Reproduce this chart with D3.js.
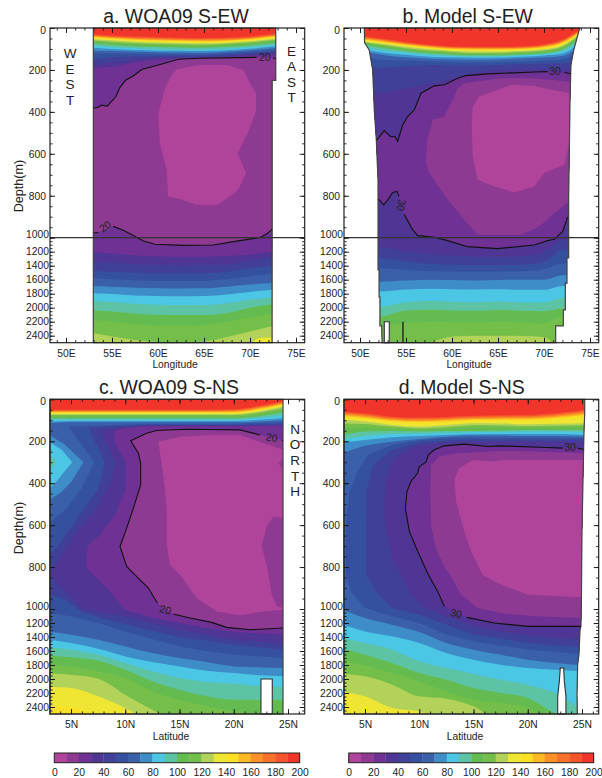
<!DOCTYPE html>
<html>
<head>
<meta charset="utf-8">
<script src="https://cdn.jsdelivr.net/npm/d3@7"></script>
<style>
body{margin:0;background:#fff;}
text{font-family:"Liberation Sans",Arial,sans-serif;fill:#222;}
</style>
</head>
<body>
<svg id="chart" width="602" height="778"></svg>
<script>
// colour of each 10 wide class, 0-10 first
var colors=["#b0449a","#8e3a92","#6f3193","#4f3594","#404099","#3650a0","#3a60aa","#3e8cc8","#4bc6e5","#5cc3a4",
	"#64bc50","#74bf4a","#b3d25a","#eee633","#f9e023","#fdb924","#f99128","#f6722a","#f4542a","#f1352b"];
var depthTicks=[0,200,400,600,800,1000,1200,1400,1600,1800,2000,2200,2400];
var lonTicks=[50,55,60,65,70,75];
var latTicks=[5,10,15,20,25];
var barTicks=[0,20,40,60,80,100,120,140,160,180,200];

// ---- a. WOA09 S-EW ----
var lonA=[52.9,55,57.5,60,62.5,65,67.5,70,72.9];
// depth where the value first drops below 190,180,...
var upA=[
[30,36,41,44,47,48,46,40,26],
[33,40,45,48,51,52,50,44,30],
[37,44,49,52,55,56,54,48,34],
[40,47,52,56,59,60,58,51,37],
[43,50,56,60,62,64,61,54,40],
[47,54,60,64,66,68,65,58,44],
[52,59,65,69,71,73,70,63,50],
[58,65,71,75,77,79,75,68,56],
[65,72,78,82,84,85,81,74,62],
[74,81,87,91,93,94,90,83,70],
[85,92,97,101,102,103,99,92,78],
[94,100,105,108,109,110,106,99,87],
[108,110,113,116,117,118,113,106,95],
[122,122,123,124,125,125,120,113,105],
[150,140,135,133,131,131,126,119,112],
[178,165,150,142,138,137,132,125,118],
[190,185,165,150,145,143,139,134,129]];
// depth where the value comes back above 130,120,...
var lowA=[
[],
[2365,2410,2460,2490,2500,2485,2420,2340,2245],
[2175,2200,2235,2250,2250,2247,2205,2140,2080],
[2035,2055,2085,2100,2106,2104,2075,2000,1940],
[1905,1920,1945,1958,1962,1961,1935,1885,1845],
[1795,1805,1825,1832,1835,1832,1810,1775,1740],
[1690,1700,1715,1722,1725,1723,1700,1670,1640],
[1580,1595,1610,1618,1620,1618,1595,1550,1510],
[1475,1490,1505,1510,1512,1509,1490,1440,1395],
[1332,1352,1378,1388,1392,1390,1378,1330,1250],
[1199,1225,1255,1268,1272,1271,1262,1240,1190]];
var contourA=[[52.97,383],[53.5,378],[53.88,368],[54.49,373],[55.43,327],[55.87,283],[56.52,248],[57.32,229],[58.22,198],[59.86,179],[62.2,149],[64.57,144],[70.73,140],null,[72.5,144],[72.9,144]];
var contourA2=[[72.9,950],[72.43,959],[71.81,982],[71.09,999],[68.19,1056],[66.01,1104],[62.75,1109],[59.67,1094],[58.41,1047],[57.32,990],[56.23,965],[55.14,946],null,[53.51,975],[52.9,978]];
var pinkA=[[62.03,197],[64.57,176],[67.46,176],[69.28,200],[70,263],[70.65,311],[70.65,398],[69.82,494],[68.66,597],[69.57,692],[68.73,771],[67.83,803],[66.4,843],[64.2,843],[62.4,815],[61.1,803],[60.94,676],[60.2,549],[60.04,406],[60.76,287],[61.49,224]];
var yellowA=[[70.2,2500],[70.8,2440],[71.6,2425],[72.6,2430],[72.6,2500]];
var outlineA=[[52.97,0],[72.8,0],[72.8,250],[72.4,250],[72.4,2500],[52.97,2500]];

// ---- b. Model S-EW ----
var lonB=[50.4,52,55,58,60,62.5,65,67.5,70,72,74];
var upB=[
[40,48,68,82,88,90,90,88,78,55,5],
[44,52,71,85,91,93,93,91,82,60,8],
[48,56,74,88,94,96,96,94,85,64,11],
[52,60,77,91,97,99,99,97,88,68,14],
[56,64,81,94,100,103,103,100,92,72,17],
[60,68,85,98,104,107,107,104,96,77,20],
[64,73,90,103,108,112,112,108,101,82,24],
[68,78,96,109,114,119,118,114,107,88,28],
[72,84,102,115,120,124,124,120,113,95,34],
[80,92,110,122,127,130,130,126,120,103,42],
[90,104,118,130,133,136,135,131,125,112,52],
[100,115,128,138,140,142,141,137,131,122,66],
[110,125,140,148,150,151,150,146,141,134,80],
[120,150,155,160,163,164,163,160,156,150,110],
[150,190,182,176,178,178,177,172,170,168,140],
[200,311,287,263,240,212,200,196,195,195,170]];
var lowB=[
[],
[2600,2600,2600,2480,2410,2400,2400,2405,2420,2600,2600],
[2270,2270,2220,2200,2210,2215,2199,2210,2225,2120,2110],
[2130,2130,2040,2030,2040,2045,2032,2045,2050,2010,2030],
[1985,1985,1925,1900,1915,1925,1913,1925,1925,1860,1860],
[1770,1770,1740,1730,1735,1740,1737,1745,1745,1690,1690],
[1628,1628,1610,1600,1605,1610,1604,1600,1600,1535,1530],
[1437,1437,1460,1480,1485,1488,1485,1480,1450,1370,1366],
[1294,1294,1340,1375,1385,1390,1390,1385,1340,1180,1175],
[1130,1130,1190,1235,1255,1268,1270,1265,1200,1035,1030]];
var contourB=[[51.5,533],[51.85,533],[52.64,489],[53.3,517],[53.84,520],[54.09,541],[54.64,462],[55.18,422],[55.91,390],[56.63,311],[58.08,276],[59.17,271],[60.62,240],[61.52,227],[63.88,219],[68.95,210],[70.4,208],null,[72.2,211],[72.93,219]];
var contourB2=[[72.57,901],[72.03,970],[71.12,1023],[70.4,1042],[68.95,1104],[64.96,1156],[61.7,1128],[59.53,1042],[58.08,998],[56.27,990],[55.72,962],[54.82,890],null,[54.24,803],[54.02,779],[53.55,784],[53.08,816],[52.57,843],[52.1,819],[51.5,819]];
var plumB=[[60.62,287],[61.34,263],[65.33,240],[68.95,240],[72.86,256],[73,819],[71.12,883],[69.49,946],[67.5,986],[62.8,986],[61.34,914],[59.53,819],[57.54,692],[57.17,644],[57.28,541],[57.9,438],[59.17,422],[60.25,327]];
var pinkB=[[62.25,375],[62.97,327],[66.41,271],[68.95,276],[72.75,311],[72.75,549],[72.21,652],[70.04,692],[68.95,756],[66.78,784],[64.6,756],[62.79,724],[62.25,613],[62.14,470]];
var outlineB=[[50.47,0],[50.5,70],[51,105],[51.38,200],[51.55,390],[51.77,533],[51.96,724],[51.96,1461],[52.07,1461],[52.07,1847],[52.17,1847],[52.17,2261],[52.36,2261],[52.4,2500],[71.27,2500],[71.27,2260],[72.1,2260],[72.1,2030],[72.32,2030],[72.32,1650],[72.5,1650],[72.5,1290],[72.68,1290],[72.68,819],[72.83,343],[72.93,176],[73.23,105],[73.88,0]];
var notchB=[[52.64,2500],[52.64,2200],[53.18,2200],[53.18,2500]];
var ridgeB=[[54.67,2200],[54.67,2500]];

// ---- c. WOA09 S-NS ----
var latC=[3,5,7.5,10,12.5,15,17.5,20,22.5,24.6];
var upC=[
[50,50,50,50,50,50,50,48,30,8],
[53,53,53,53,53,53,53,52,34,12],
[56,56,56,56,56,56,56,55,38,16],
[59,59,59,59,59,59,59,58,42,20],
[62,62,62,62,62,62,62,62,46,24],
[65,66,66,66,66,66,66,66,51,28],
[70,70,70,70,70,70,70,70,56,33],
[75,75,75,75,75,75,75,75,62,42],
[82,82,82,82,82,82,82,82,70,52],
[90,90,90,90,90,90,90,90,80,62],
[98,98,98,98,98,98,98,97,88,76],
[106,104,104,104,104,104,104,104,97,90],
[113,110,110,110,110,110,110,110,106,100]];
var lowC=[
[2110,2129,2248,2415,2600,2600,2600,2600,2600,2600],
[1920,1939,1996,2224,2439,2600,2600,2600,2600,2600],
[1796,1820,1890,1986,2177,2296,2391,2462,2510,2560],
[1667,1691,1739,1867,2034,2153,2248,2296,2296,2296],
[1548,1581,1653,1772,1891,1986,2043,2067,2105,2115],
[1439,1486,1567,1677,1758,1820,1881,1915,1948,1962],
[1320,1367,1439,1534,1629,1700,1758,1820,1834,1843]];
var bright140C=[[3,2391],[5,2405],[7.5,2500],[3,2520]];
var pocket70C=[[3,170],[4.45,217],[6.14,300],[5.06,392],[3.99,448],[3,479]];
var pocket80C=[[3,202],[4.14,241],[5.12,300],[4.29,352],[3.53,400],[3,424]];
var pocket90C=[[3,265],[3.68,300],[3,337]];
var band60C=[[24.6,110],[20,116],[12,116],[4.75,130],[7.15,300],[5.98,424],[4.6,519],[3,590],[3,1058],[5,1105],[7.5,1200],[10,1320],[12.5,1430],[15,1534],[17.5,1600],[20,1653],[22.5,1680],[24.6,1700]];
var band50C=[[24.6,118],[20,122],[12,121],[6.6,135],[8.13,300],[7.52,424],[5.83,551],[4.29,662],[3,749],[3,932],[4.14,948],[6.14,1058],[10,1215],[15,1405],[17.5,1450],[20,1510],[24.6,1581]];
var band40C=[[24.6,124],[20,125],[12,125],[7.67,146],[9.12,300],[8.6,408],[7.37,519],[5.52,630],[4.14,741],[3.06,837],[4.14,900],[6.14,1010],[10,1105],[12.5,1200],[15,1296],[17.5,1367],[20,1439],[24.6,1486]];
var band30C=[[24.6,126],[20,128],[12,128],[10,137],[9.05,146],[8.96,202],[10.07,300],[10.07,424],[9.06,551],[7.67,646],[6.5,702],[6.38,805],[7.06,837],[8.6,916],[9.98,1010],[12.5,1120],[15,1200],[17.5,1272],[20,1329],[24.6,1367]];
var contourC=[[24.6,198],[24.42,194],null,[22.42,170],[20.58,146],[15.66,143],[12.9,149],[11.97,162],[10.5,198],[11.21,257],[11.42,305],[11.42,408],[10.75,519],[10.13,614],[9.52,702],[10.13,797],[10.9,837],[12.13,900],[12.96,971],null,[14.43,1072],[15.97,1129],[17.96,1191],[19.35,1262],[21.5,1296],[24.6,1272]];
var pinkC=[[13.05,202],[15.05,178],[18.12,170],[20.58,170],[22.73,210],[24.6,241],[24.6,567],[23.65,559],[23.03,606],[22.57,702],[23.03,789],[23.19,837],[23.5,932],[23.95,987],[24.6,995],[24.6,1010],[22.73,1034],[20.58,1091],[18.43,1034],[16.58,948],[15.05,837],[14.12,789],[13.82,694],[13.82,519],[13.51,360]];
var plumSpotC=[[24.6,281],[24.1,305],[24.6,337]];
var outlineC=[[3.06,0],[24.54,0],[24.54,2500],[3.06,2500]];
var notchC=[[22.51,2500],[22.51,2000],[23.55,2000],[23.55,2500]];

// ---- d. Model S-NS ----
var latD=[3,5,7.5,10,12.5,15,17.5,20,22.5,25.3];
var upD=[
[59,67,83,87,84,78,76,75,67,50],
[64,72,88,92,89,83,81,80,72,56],
[69,77,93,97,94,88,86,85,77,62],
[75,83,98,102,99,93,91,90,83,68],
[81,89,103,108,105,98,96,96,89,75],
[88,96,110,115,112,105,104,104,97,85],
[98,106,122,130,122,114,115,119,117,114],
[115,118,130,138,132,124,125,128,126,122],
[135,134,140,146,142,135,135,137,135,132],
[170,154,151,154,151,151,149,146,146,146],
[190,175,165,163,160,157,156,154,154,156],
[206,194,181,175,170,167,166,165,165,170],
[257,222,202,189,178,173,173,175,175,178]];
var lowD=[
[2186,2248,2415,2462,2600,2600,2600,2600,2600,2600],
[1929,1962,2081,2248,2281,2391,2600,2600,2600,2600],
[1739,1805,1915,2034,2177,2296,2343,2415,2600,2600],
[1567,1653,1772,1915,2010,2129,2200,2272,2486,2600],
[1415,1486,1581,1748,1843,1929,2010,2081,2200,2486],
[1224,1320,1391,1486,1629,1724,1796,1843,1867,1890],
[1010,1129,1224,1329,1486,1581,1653,1724,1772,1805]];
var band60D=[[25.3,185],[15,183],[12.5,186],[10,195],[7.5,217],[5.25,265],[4.32,344],[3.56,440],[3.25,598],[3.25,837],[3.7,916],[5,995],[7.5,1105],[10,1200],[12.5,1367],[15,1462],[17.5,1524],[20,1581],[22.5,1615],[25.3,1653]];
var band50D=[[25.3,192],[15,192],[12.5,196],[10,206],[7.5,241],[5.71,313],[5.15,440],[5.09,598],[5.09,837],[6.01,916],[7.5,995],[10,1081],[12.5,1224],[15,1367],[17.5,1424],[20,1486],[22.5,1520],[25.3,1548]];
var band40D=[[25.3,203],[15,202],[12.5,206],[10,222],[8.32,260],[7.4,305],[6.94,392],[6.78,519],[6.94,630],[7.55,773],[8.32,837],[9.24,932],[10.62,995],[12.5,1105],[15,1248],[17.5,1320],[20,1367],[22.5,1405],[25.3,1439]];
var contourD=[[25.3,241],[24.6,233],null,[23.22,233],[21.84,230],[17.53,222],[16.31,225],[14.16,214],[12.31,222],[11.39,241],[10.84,265],[10.62,300],[10,321],[9.85,352],[9.24,392],[8.87,440],[8.72,519],[9.09,630],[9.85,725],[10.84,837],[11.7,916],[12.31,987],null,[14.37,1120],[16.92,1200],[19.99,1248],[23.06,1248],[25.3,1248]];
var plumD=[[11.08,313],[11.85,273],[13.54,257],[17.53,246],[20.6,249],[25.3,257],[25.3,1129],[20.6,1105],[17.53,1058],[15.38,995],[13.85,932],[12.83,837],[12.31,797],[11.54,710],[11.08,598],[11.02,440]];
var pinkD=[[13.23,384],[13.69,329],[14.92,289],[16.77,297],[17.84,289],[25.3,289],[25.3,945],[19.99,932],[17.53,884],[15.84,837],[14.77,725],[14.16,630],[13.39,487]];
var outlineD=[[3.06,0],[25.25,0],[25.25,67],[25.18,162],[25.12,313],[25,630],[24.94,995],[24.9,1248],[24.82,1296],[24.72,1653],[24.6,1796],[24.54,2224],[24.57,2500],[3.06,2500]];
var spikeD=[[22.76,2500],[22.76,2248],[22.91,2034],[23,1843],[23.31,1843],[23.37,2034],[23.52,2248],[23.52,2500]];

var svg=d3.select("#chart");

function drawPanel(p){
	var x=d3.scaleLinear().domain(p.xDomain).range(p.xRange);
	var y=d3.scaleLinear().domain([0,1000,2500]).range([p.top,p.top+209.7,p.top+314.7]);
	var line=d3.line().defined(function(d){return d;}).x(function(d){return x(d[0]);}).y(function(d){return y(d[1]);});
	var closed=d3.line().x(function(d){return x(d[0]);}).y(function(d){return y(d[1]);}).curve(d3.curveLinearClosed);
	var g=svg.append("g");

	g.append("clipPath").attr("id","clip"+p.id).append("path").attr("d",closed(p.outline));
	var field=g.append("g").attr("clip-path","url(#clip"+p.id+")");
	field.append("rect").attr("x",p.left).attr("y",p.top).attr("width",p.right-p.left).attr("height",p.bottom-p.top).attr("fill",colors[19]);

	// bands from the tables, reddest first
	p.up.forEach(function(row,i){
		var t=190-i*10;
		var lo=p.low[(130-t)/10]||[];
		var area=d3.area().curve(d3.curveMonotoneX)
			.x(function(d,j){return x(p.cols[j]);})
			.y0(function(d,j){return y(row[j]);})
			.y1(function(d,j){return y(lo[j]||2600);});
		field.append("path").attr("d",area(p.cols)).attr("fill",colors[t/10-1]);
	});
	// everything that is not a plain band, in painting order
	p.shapes.forEach(function(s){
		field.append("path").attr("d",closed(s[1].filter(function(d){return d;}))).attr("fill",colors[s[0]/10]);
	});

	// land cut outs
	(p.cuts||[]).forEach(function(c){
		g.append("path").attr("d",closed(c)).attr("fill","#fff").attr("stroke","#333").attr("stroke-width",1.1);
	});
	if(p.ridge) g.append("path").attr("d",line(p.ridge)).attr("stroke","#222").attr("stroke-width",1.4).attr("fill","none");
	g.append("path").attr("d",closed(p.outline)).attr("fill","none").attr("stroke","#444").attr("stroke-width",1.2);

	// the labelled isoline
	var lines=g.append("g").attr("clip-path","url(#clip"+p.id+")");
	p.contours.forEach(function(c){
		lines.append("path").attr("d",line(c)).attr("fill","none").attr("stroke","#111").attr("stroke-width",1.1);
	});
	p.labels.forEach(function(l){
		g.append("text").attr("transform","translate("+x(l[0])+","+y(l[1])+") rotate("+l[2]+")")
			.attr("text-anchor","middle").attr("dy","0.36em").style("font-size","10.5px").text(l[3]);
	});
	if(p.line1000){
		g.append("line").attr("x1",p.left).attr("x2",p.right).attr("y1",y(1000)).attr("y2",y(1000)).attr("stroke","#333").attr("stroke-width",1.2);
	}

	// axes, ticks point inwards
	function noLabel(){return "";}
	var minorX=d3.range(Math.ceil(x.invert(p.left)),x.invert(p.right),1);
	var minorY=d3.range(0,2500,50);
	var axes=g.append("g");
	axes.append("g").attr("transform","translate(0,"+p.bottom+")").call(d3.axisBottom(x).tickValues(minorX).tickSize(-2.5).tickFormat(noLabel));
	axes.append("g").attr("transform","translate(0,"+p.top+")").call(d3.axisTop(x).tickValues(minorX).tickSize(-2.5).tickFormat(noLabel));
	axes.append("g").attr("transform","translate(0,"+p.top+")").call(d3.axisTop(x).tickValues(p.xTicks).tickSize(-5).tickFormat(noLabel));
	axes.append("g").attr("transform","translate("+p.left+",0)").call(d3.axisLeft(y).tickValues(minorY).tickSize(-2.5).tickFormat(noLabel));
	axes.append("g").attr("transform","translate("+p.right+",0)").call(d3.axisRight(y).tickValues(minorY).tickSize(-2.5).tickFormat(noLabel));
	axes.append("g").attr("transform","translate("+p.right+",0)").call(d3.axisRight(y).tickValues(depthTicks).tickSize(-5).tickFormat(noLabel));
	var bx=axes.append("g").attr("transform","translate(0,"+p.bottom+")")
		.call(d3.axisBottom(x).tickValues(p.xTicks).tickSize(-5).tickPadding(7).tickFormat(function(d){return d+p.suffix;}));
	var ly=axes.append("g").attr("transform","translate("+p.left+",0)")
		.call(d3.axisLeft(y).tickValues(depthTicks).tickSize(-5).tickPadding(4).tickFormat(d3.format("d")));
	ly.selectAll("text").attr("x",function(d){return d>=1000?-1:-4;})
		.attr("dy",function(d){return d==1000?"-0.0em":(d==0?"0.55em":"0.32em");});
	axes.selectAll(".domain").remove();
	axes.selectAll("line").attr("stroke","#111").attr("stroke-width",0.9);
	axes.selectAll("text").style("font-size","10.3px").style("font-family","'Liberation Sans',Arial,sans-serif").attr("fill","#222");

	g.append("rect").attr("x",p.left).attr("y",p.top).attr("width",p.right-p.left).attr("height",p.bottom-p.top)
		.attr("fill","none").attr("stroke","#222").attr("stroke-width",1.2);

	g.append("text").attr("x",p.titleX).attr("y",p.top-5.4).attr("text-anchor","middle").style("font-size","19.4px").text(p.title);
	g.append("text").attr("x",p.xNameX).attr("y",p.bottom+25.5).attr("text-anchor","middle").style("font-size","10.3px").text(p.xName);
	if(p.yNameY){
		g.append("text").attr("transform","translate(22.5,"+p.yNameY+") rotate(-90)").attr("text-anchor","middle").style("font-size","12.6px").text("Depth(m)");
	}
	(p.side||[]).forEach(function(w){
		w[0].split("").forEach(function(ch,i){
			g.append("text").attr("x",w[1]).attr("y",w[2]+i*w[3]).attr("text-anchor","middle").style("font-size","13.5px").text(ch);
		});
	});
}

drawPanel({id:"a",title:"a. WOA09 S-EW",titleX:176,xName:"Longitude",xNameX:175,suffix:"E",yNameY:186,
	left:50,right:304.7,top:28,bottom:342.7,xDomain:[50,75],xRange:[66,296],xTicks:lonTicks,line1000:true,
	cols:lonA,up:upA,low:lowA,outline:outlineA,contours:[contourA,contourA2],
	shapes:[[10,contourA.concat(contourA2)],[0,pinkA],[130,yellowA]],
	labels:[[71.6,141,0,"20"],[54.24,946,-35,"20"]],
	side:[["WEST",70,58,15.5],["EAST",291.5,55.5,15.5]]});
drawPanel({id:"b",title:"b. Model S-EW",titleX:467.7,xName:"Longitude",xNameX:469,suffix:"E",
	left:344,right:598.7,top:28,bottom:342.7,xDomain:[50,75],xRange:[360,590],xTicks:lonTicks,line1000:true,
	cols:lonB,up:upB,low:lowB,outline:outlineB,contours:[contourB,contourB2],
	shapes:[[20,contourB.concat(contourB2)],[10,plumB],[0,pinkB]],
	labels:[[71.2,208,0,"30"],[54.5,845,100,"30"]],
	cuts:[notchB],ridge:ridgeB});
drawPanel({id:"c",title:"c. WOA09 S-NS",titleX:169,xName:"Latitude",xNameX:171,suffix:"N",yNameY:528,
	left:50,right:304.7,top:399.3,bottom:714,xDomain:[5,25],xRange:[71,288],xTicks:latTicks,
	cols:latC,up:upC,low:lowC,outline:outlineC,contours:[contourC],
	shapes:[[140,bright140C],[70,pocket70C],[80,pocket80C],[90,pocket90C],[50,band60C],[40,band50C],[30,band40C],[20,band30C],
		[10,contourC],[0,pinkC],[10,plumSpotC]],
	labels:[[23.5,182,10,"20"],[13.7,1010,15,"20"]],
	cuts:[notchC],
	side:[["NORTH",295,433.5,15.7]]});
drawPanel({id:"d",title:"d. Model S-NS",titleX:461.7,xName:"Latitude",xNameX:465,suffix:"N",
	left:344,right:598.7,top:399.3,bottom:714,xDomain:[5,25],xRange:[365,582],xTicks:latTicks,
	cols:latD,up:upD,low:lowD,outline:outlineD,contours:[contourD],
	shapes:[[50,band60D],[40,band50D],[30,band40D],[20,contourD],[10,plumD],[0,pinkD]],
	labels:[[23.9,230,0,"30"],[13.4,1060,12,"30"]],
	cuts:[spikeD]});

// colour bars
function drawBar(x0,x1){
	var x=d3.scaleLinear().domain([0,200]).range([x0,x1]);
	var g=svg.append("g");
	g.selectAll("rect.c").data(colors).enter().append("rect").attr("class","c")
		.attr("x",function(d,i){return x(i*10);}).attr("y",753)
		.attr("width",function(d,i){return x(10)-x(0)+0.3;}).attr("height",9.7)
		.attr("fill",function(d){return d;});
	g.append("rect").attr("x",x0).attr("y",753).attr("width",x1-x0).attr("height",9.7).attr("fill","none").attr("stroke","#222").attr("stroke-width",1);
	var ax=g.append("g").attr("transform","translate(0,762.7)")
		.call(d3.axisBottom(x).tickValues(barTicks).tickSize(0).tickPadding(6));
	ax.select(".domain").remove();
	ax.selectAll("text").style("font-size","10.3px").style("font-family","'Liberation Sans',Arial,sans-serif").attr("fill","#222");
}
drawBar(54.3,299.7);
drawBar(348.7,593.7);
</script>
</body>
</html>
